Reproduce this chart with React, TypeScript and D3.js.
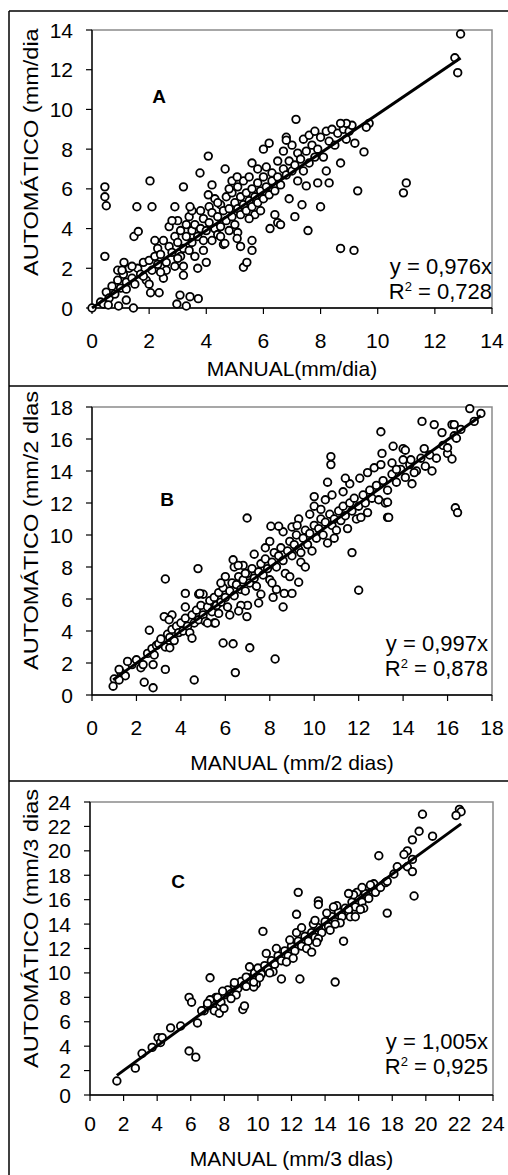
import * as d3 from "d3";

const FONT = '"Liberation Sans", Arial, sans-serif';

// ---- data (manual, automatico) ----
const pointsA: [number, number][] = [
  [0.3, 0.3], [0.4, 0.2], [0.5, 0.8], [0.6, 0.5], [0.7, 1.1], [0.8, 0.7], [0.9, 1.4], [1.0, 1.0], [1.1, 1.7], [1.2, 1.3],
  [1.3, 2.0], [1.4, 1.5], [1.5, 1.2], [1.6, 2.0], [1.7, 1.7], [1.8, 2.3], [1.9, 1.4], [2.0, 2.4], [2.1, 1.9], [2.2, 2.6],
  [1.2, 0.95], [0.9, 1.9], [1.4, 2.1], [1.8, 1.6], [2.0, 1.2],
  [2.3, 2.2], [2.3, 3.0], [2.4, 2.7], [2.5, 3.4], [2.5, 1.5], [2.6, 2.3], [2.7, 3.1], [2.7, 4.1], [2.8, 2.8], [2.9, 3.6],
  [2.9, 2.1], [3.0, 3.3], [3.0, 4.4], [3.1, 2.6], [3.1, 3.9], [3.2, 3.0], [3.3, 3.6], [3.3, 4.2], [3.4, 2.9], [3.4, 4.6],
  [3.5, 3.3], [3.5, 3.9], [3.6, 4.2], [3.6, 2.6], [3.7, 3.6], [3.7, 2.0], [3.8, 4.0], [3.8, 4.9], [3.9, 3.4], [3.9, 4.5],
  [4.0, 2.3], [4.0, 3.9], [2.2, 3.4], [2.8, 4.4], [3.2, 2.1], [3.5, 4.9], [2.6, 1.9], [3.0, 2.5], [2.4, 1.8], [3.9, 2.9],
  [4.1, 4.3], [4.1, 5.1], [4.2, 3.4], [4.2, 4.8], [4.3, 4.0], [4.3, 5.5], [4.4, 3.7], [4.4, 4.6], [4.5, 5.2], [4.5, 4.1],
  [4.6, 4.9], [4.6, 3.2], [4.7, 5.6], [4.7, 4.4], [4.8, 3.9], [4.8, 5.0], [4.9, 4.6], [4.9, 5.8], [5.0, 5.3], [5.0, 4.2],
  [5.1, 5.0], [5.1, 6.1], [5.2, 4.7], [5.2, 5.6], [5.3, 5.2], [5.3, 6.4], [5.4, 4.9], [5.4, 5.8], [5.5, 5.4], [5.5, 6.6],
  [5.6, 5.1], [5.6, 6.0], [5.7, 5.6], [5.7, 4.7], [5.8, 6.3], [5.8, 5.3], [5.9, 5.9], [6.0, 6.6], [6.0, 5.5], [4.4, 5.3],
  [4.8, 6.0], [5.1, 3.8], [5.8, 7.0], [4.2, 6.2], [4.5, 3.6], [5.5, 4.5], [5.9, 4.9], [4.9, 6.4],
  [6.1, 6.1], [6.1, 7.1], [6.2, 5.7], [6.3, 6.8], [6.3, 6.4], [6.4, 5.9], [6.5, 7.4], [6.5, 6.6], [6.6, 6.2], [6.7, 7.0],
  [6.7, 7.9], [6.8, 6.7], [6.9, 7.4], [6.9, 5.5], [7.0, 6.9], [7.0, 8.2], [7.1, 7.2], [7.2, 7.8], [7.2, 6.4], [7.3, 7.5],
  [7.4, 8.5], [7.4, 6.9], [7.5, 7.9], [7.6, 8.7], [7.6, 7.3], [7.7, 8.2], [7.8, 7.6], [7.8, 8.9], [7.9, 8.0], [8.0, 8.6],
  [8.1, 7.6], [8.2, 8.9], [8.3, 8.4], [8.4, 9.0], [8.5, 8.2], [8.6, 8.8], [8.7, 7.3], [8.8, 9.0], [8.9, 8.5], [9.0, 8.9],
  [9.1, 9.2], [9.2, 8.3], [6.2, 8.3], [6.0, 8.0], [7.9, 6.3], [8.2, 6.9], [6.8, 8.6], [6.5, 4.3], [8.9, 9.3],
  [0.45, 6.1], [0.45, 5.6], [0.5, 5.15], [2.03, 6.4], [3.2, 6.1], [3.78, 6.8], [4.07, 7.65], [4.66, 7.0], [5.08, 6.6], [5.6, 7.3],
  [4.07, 5.7], [12.9, 13.8], [12.7, 12.6], [12.8, 11.85], [7.14, 9.5], [9.7, 9.3], [9.6, 9.1], [9.52, 7.86], [11.0, 6.3], [10.9, 5.8],
  [9.3, 5.9], [8.3, 6.3], [7.5, 6.15], [6.8, 8.45], [8.7, 9.3], [0.45, 2.6], [0, 0], [1.45, 0.0], [1.2, 0.4], [0.93, 0.1],
  [0.57, 0.15], [2.05, 0.77], [2.35, 0.77], [2.97, 0.2], [3.3, 0.1], [3.08, 0.65], [3.43, 0.57], [3.72, 0.47], [1.05, 1.9], [1.12, 2.3],
  [1.47, 3.6], [1.62, 3.85], [1.57, 5.1], [2.1, 5.1], [2.9, 5.1], [3.43, 5.1], [5.3, 2.05], [5.42, 2.3], [5.6, 2.9], [5.6, 3.4],
  [5.2, 3.1], [5.08, 3.5], [4.65, 3.25], [6.23, 4.0], [6.6, 4.2], [6.4, 4.7], [7.1, 4.6], [7.35, 5.2], [7.56, 3.9], [8.0, 5.1],
  [8.7, 3.0], [9.17, 2.9], [3.2, 1.65],
];

const pointsB: [number, number][] = [
  [1.0, 1.0], [1.3, 1.4], [1.5, 1.2], [1.8, 1.9], [2.0, 2.2], [2.2, 1.7], [2.5, 2.6], [2.7, 2.9], [2.8, 2.5], [2.9, 3.1],
  [3.0, 3.2], [3.1, 3.5], [3.3, 3.0], [3.4, 3.8], [3.5, 3.6], [3.6, 4.1], [3.7, 3.4], [3.8, 4.3], [3.9, 3.9], [4.0, 4.5],
  [4.1, 4.0], [4.2, 4.8], [4.3, 4.3], [4.4, 3.9], [4.5, 5.0], [4.6, 4.5], [4.7, 5.3], [4.8, 4.7], [4.9, 5.6], [5.0, 5.0],
  [5.1, 4.6], [5.2, 5.5], [5.3, 5.9], [5.4, 5.2], [5.5, 6.1], [5.6, 5.6], [5.7, 6.4], [5.8, 5.8], [5.9, 6.7], [6.0, 6.1],
  [6.1, 5.5], [6.2, 6.5], [6.3, 7.0], [6.4, 6.2], [6.5, 6.9], [6.6, 7.4], [6.7, 6.6], [6.8, 7.2], [6.9, 6.5], [7.0, 7.6],
  [7.1, 7.0], [7.2, 7.9], [7.3, 7.3], [7.4, 6.8], [7.5, 7.7], [7.6, 8.2], [7.7, 7.5], [7.8, 8.5], [7.9, 7.9], [8.0, 7.2],
  [8.1, 8.3], [8.2, 8.9], [8.3, 8.0], [8.4, 8.7], [8.5, 9.2], [8.6, 8.4], [8.7, 7.6], [8.8, 9.0], [8.9, 9.6], [9.0, 8.7],
  [9.1, 9.4], [9.2, 10.0], [9.3, 9.1], [9.4, 8.3], [9.5, 9.8], [9.6, 10.3], [9.7, 9.4], [9.8, 10.1], [9.9, 9.0], [10.0, 10.6],
  [10.1, 9.8], [10.2, 10.4], [10.3, 11.0], [10.4, 10.0], [10.5, 10.8], [10.6, 9.5], [10.7, 11.3], [10.8, 10.6], [10.9, 11.0], [11.0, 10.3],
  [11.1, 11.5], [11.2, 10.9], [11.3, 11.8], [11.4, 11.2], [11.5, 10.4], [11.6, 12.0], [11.7, 11.5], [11.8, 12.3], [11.9, 11.0], [12.0, 11.8],
  [12.2, 12.5], [12.3, 12.0], [12.4, 11.4], [12.5, 12.8], [12.6, 12.3], [12.8, 13.1], [12.9, 12.2], [13.1, 13.4], [13.3, 12.8], [13.5, 13.8],
  [13.7, 13.3], [13.9, 14.1], [14.1, 13.6], [14.3, 14.4], [14.6, 14.0], [14.8, 14.8], [15.0, 14.3], [15.2, 15.0], [15.5, 14.8], [15.8, 15.6],
  [16.0, 15.1], [16.3, 16.2], [16.6, 16.6], [17.2, 17.1],
  [5.5, 4.5], [6.2, 5.0], [7.0, 5.6], [7.6, 6.3], [8.3, 6.6], [8.9, 7.4], [9.6, 8.0], [5.0, 6.3], [6.0, 7.4], [6.8, 8.1],
  [7.3, 8.8], [8.0, 9.6], [8.6, 10.2], [9.3, 11.0], [10.0, 11.8], [10.8, 12.5], [11.6, 13.2], [12.4, 13.9], [6.4, 8.0], [7.8, 9.2],
  [9.0, 10.5], [9.8, 11.3], [10.5, 12.2], [11.3, 12.7], [12.7, 14.2], [13.2, 12.0], [14.4, 13.2], [15.3, 14.0], [4.2, 5.5], [5.8, 7.0],
  [3.6, 5.0], [4.8, 6.3], [6.7, 5.6], [8.1, 7.0], [9.4, 8.9], [10.9, 9.8], [12.1, 11.1],
  [3.3, 7.25], [4.77, 7.9], [6.98, 11.06], [6.35, 8.45], [6.58, 8.1], [6.9, 7.6], [17.0, 17.9], [17.5, 17.6], [14.85, 17.1], [15.4, 16.9],
  [15.75, 16.4], [16.2, 16.9], [16.3, 16.9], [16.4, 16.05], [16.0, 15.45], [16.2, 14.75], [13.0, 16.45], [13.05, 15.1], [13.55, 15.55], [14.0, 15.4],
  [14.1, 15.3], [14.95, 15.4], [13.0, 14.4], [13.5, 14.5], [14.0, 14.7], [14.35, 14.7], [13.7, 14.1], [14.5, 13.9], [10.75, 14.9], [10.75, 14.4],
  [10.6, 13.3], [11.4, 13.55], [12.05, 13.55], [10.0, 12.4], [10.3, 11.6], [16.35, 11.7], [16.45, 11.4], [13.3, 11.1], [13.35, 11.1], [13.3, 12.05],
  [11.7, 8.9], [8.05, 10.55], [8.4, 10.55], [9.23, 10.6], [0.95, 0.55], [1.22, 0.94], [1.22, 1.6], [1.6, 2.1], [2.3, 1.9], [2.75, 1.9],
  [2.35, 0.8], [2.75, 0.45], [2.58, 4.05], [3.3, 1.6], [3.5, 2.95], [3.25, 4.9], [3.47, 4.7], [4.5, 3.55], [4.6, 0.94], [5.9, 3.25],
  [6.35, 3.2], [6.45, 1.4], [7.1, 2.95], [8.24, 2.25], [12.0, 6.55], [4.2, 6.35], [4.85, 6.35], [8.6, 5.5], [8.65, 6.35], [9.0, 6.35],
  [8.15, 6.1], [7.5, 5.75], [6.97, 4.9], [6.6, 5.25], [5.2, 4.5], [5.55, 4.5], [5.7, 5.1], [9.3, 7.05],
];

const pointsC: [number, number][] = [
  [6.8, 6.9], [7.0, 7.3], [7.3, 7.4], [7.5, 8.0], [7.8, 7.6], [8.0, 8.2], [8.2, 8.6], [8.4, 8.3], [8.6, 9.0], [8.8, 8.7],
  [9.0, 9.3], [9.2, 9.0], [9.4, 9.6], [9.6, 9.3], [9.8, 10.0], [10.0, 10.4], [10.2, 9.9], [10.4, 10.6], [10.6, 10.3], [10.8, 11.0],
  [11.0, 10.7], [11.2, 11.4], [11.4, 11.0], [11.6, 11.8], [11.8, 11.4], [12.0, 12.2], [12.2, 11.8], [12.4, 12.6], [12.6, 12.2], [12.8, 13.0],
  [13.0, 12.6], [13.2, 13.3], [13.4, 12.9], [13.6, 13.7], [13.8, 13.3], [14.0, 14.2], [14.2, 13.8], [14.4, 14.6], [14.6, 14.2], [14.8, 15.0],
  [15.0, 14.6], [15.2, 15.3], [15.4, 15.0], [15.6, 15.8], [15.8, 15.4], [16.0, 16.2], [16.2, 15.8], [16.4, 16.5], [16.6, 16.1], [16.8, 16.8],
  [17.0, 16.6], [17.3, 17.0], [17.6, 17.4], [10.5, 11.6], [11.1, 12.0], [11.9, 12.7], [12.3, 13.3], [9.5, 10.5], [10.9, 10.1], [11.7, 10.9],
  [12.9, 12.0], [13.6, 12.8], [14.3, 13.5], [14.9, 14.1], [15.5, 14.6], [16.3, 15.3], [12.1, 11.2], [9.9, 9.1], [8.7, 8.2], [7.4, 6.9],
  [13.3, 14.0], [14.7, 15.5], [15.9, 16.6], [16.9, 17.3],
  [22.0, 23.4], [22.1, 23.2], [21.8, 22.9], [19.8, 23.0], [19.6, 21.6], [20.4, 21.2], [19.2, 20.9], [18.9, 20.0], [18.7, 19.7], [17.2, 19.6],
  [19.2, 19.3], [18.3, 18.7], [18.9, 18.7], [19.2, 18.3], [18.1, 18.1], [19.3, 16.3], [17.7, 17.5], [17.7, 14.9], [16.7, 17.2], [16.2, 17.0],
  [15.7, 16.4], [15.4, 16.5], [15.1, 12.6], [12.4, 16.6], [12.3, 14.8], [10.3, 13.4], [13.6, 15.9], [13.6, 15.6], [14.5, 15.4], [14.1, 14.9],
  [14.6, 14.0], [15.4, 15.2], [16.1, 15.2], [15.8, 14.6], [13.4, 14.3], [13.5, 12.5], [13.2, 11.7], [12.6, 13.7], [1.6, 1.15], [2.7, 2.2],
  [3.1, 3.4], [3.7, 3.9], [4.05, 4.7], [4.2, 4.3], [4.3, 4.7], [4.8, 5.5], [5.4, 5.65], [5.9, 3.6], [6.3, 3.1], [5.9, 8.0],
  [6.05, 7.6], [6.4, 5.9], [6.65, 6.9], [7.15, 9.6], [7.15, 7.8], [7.0, 7.5], [7.7, 6.7], [7.98, 7.1], [7.6, 8.0], [7.9, 8.5],
  [8.4, 7.9], [8.6, 9.2], [9.1, 7.0], [9.2, 7.3], [9.3, 8.9], [9.3, 9.65], [9.75, 8.85], [9.75, 9.25], [10.1, 9.6], [10.7, 10.0],
  [11.4, 9.5], [12.5, 9.5], [14.6, 9.25],
];

const ticksA = [0, 2, 4, 6, 8, 10, 12, 14];
const ticksB = [0, 2, 4, 6, 8, 10, 12, 14, 16, 18];
const ticksC = [0, 2, 4, 6, 8, 10, 12, 14, 16, 18, 20, 22, 24];

const slopes = [0.976, 0.997, 1.005];
const slopeLabels = ["y = 0,976x", "y = 0,997x", "y = 1,005x"];
const r2Labels = ["0,728", "0,878", "0,925"];
const letters = ["A", "B", "C"];
const xTitles = ["MANUAL(mm/dia)", "MANUAL (mm/2 dias)", "MANUAL (mm/3 dlas)"];
const yTitles = ["AUTOMÁTICO (mm/dia", "AUTOMÁTICO (mm/2 dlas", "AUTOMÁTICO (mm/3 dias"];

// ---- layout ----
const layouts = [
  { left: 92, right: 492, top: 30, bottom: 308, xLab: 340, xTitle: 368, eqX: 492, eqY: 266, letX: 159, letY: 96, yTitleStart: 276 },
  { left: 92, right: 492, top: 407, bottom: 695, xLab: 727, xTitle: 762, eqX: 488, eqY: 643, letX: 167, letY: 499, yTitleStart: 670 },
  { left: 90, right: 493, top: 802, bottom: 1095, xLab: 1123, xTitle: 1158, eqX: 488, eqY: 1041, letX: 178, letY: 881, yTitleStart: 1068 },
];

type Layout = (typeof layouts)[number];

function Panel({ points, ticks, slope, eq, r2, letter, xTitle, yTitle, L }: {
  points: [number, number][]; ticks: number[]; slope: number; eq: string; r2: string;
  letter: string; xTitle: string; yTitle: string; L: Layout;
}) {
  const dom: [number, number] = [ticks[0], ticks[ticks.length - 1]];
  const x = d3.scaleLinear().domain(dom).range([L.left, L.right]);
  const y = d3.scaleLinear().domain(dom).range([L.bottom, L.top]);
  const [xmin, xmax] = d3.extent(points, (d) => d[0]) as [number, number];
  const line = d3.line<number>().x((v) => x(v)).y((v) => y(v * slope));
  const midX = (L.left + L.right) / 2;
  return (
    <g fontFamily={FONT} fill="#000">
      <rect x={L.left} y={L.top} width={L.right - L.left} height={L.bottom - L.top} fill="#fff" stroke="#8a8a8a" strokeWidth={1.5} />
      <line x1={L.left} x2={L.left} y1={L.top} y2={L.bottom} stroke="#000" strokeWidth={1.3} />
      <line x1={L.left} x2={L.right} y1={L.bottom} y2={L.bottom} stroke="#000" strokeWidth={1.3} />
      {ticks.map((t) => (
        <g key={"y" + t}>
          <line x1={L.left - 6} x2={L.left} y1={y(t)} y2={y(t)} stroke="#000" strokeWidth={1.2} />
          <text x={L.left - 19} y={y(t)} dy="0.36em" textAnchor="end" fontSize={21}>{t}</text>
        </g>
      ))}
      {ticks.map((t) => (
        <g key={"x" + t}>
          <line x1={x(t)} x2={x(t)} y1={L.bottom} y2={L.bottom + 6} stroke="#000" strokeWidth={1.2} />
          <text x={x(t)} y={L.xLab} dy="0.36em" textAnchor="middle" fontSize={21}>{t}</text>
        </g>
      ))}
      {points.map((p, i) => (
        <circle key={i} cx={x(p[0])} cy={y(p[1])} r={3.8} fill="#fff" stroke="#000" strokeWidth={1.8} />
      ))}
      <path d={line([xmin, xmax]) ?? ""} stroke="#000" strokeWidth={3} fill="none" />
      <text x={L.letX} y={L.letY} dy="0.36em" textAnchor="middle" fontSize={19} fontWeight="bold">{letter}</text>
      <text x={L.eqX} y={L.eqY} dy="0.36em" textAnchor="end" fontSize={22}>{eq}</text>
      <text x={L.eqX} y={L.eqY + 25} dy="0.36em" textAnchor="end" fontSize={22}>
        R<tspan dy="-8" fontSize={13}>2</tspan><tspan dy="8"> = {r2}</tspan>
      </text>
      <text x={midX} y={L.xTitle} dy="0.36em" textAnchor="middle" fontSize={21}>{xTitle}</text>
      <text transform={`translate(38,${L.yTitleStart}) rotate(-90) scale(1.12,1)`} textAnchor="start" fontSize={21}>{yTitle}</text>
    </g>
  );
}

export default function App() {
  const data = [pointsA, pointsB, pointsC];
  const ticks = [ticksA, ticksB, ticksC];
  return (
    <svg width={508} height={1175} style={{ position: "absolute", left: 0, top: 0, background: "#fff" }}>
      <rect x={0} y={0} width={508} height={1175} fill="#fff" />
      {layouts.map((L, i) => (
        <Panel key={i} points={data[i]} ticks={ticks[i]} slope={slopes[i]} eq={slopeLabels[i]} r2={r2Labels[i]}
          letter={letters[i]} xTitle={xTitles[i]} yTitle={yTitles[i]} L={L} />
      ))}
      <g stroke="#000" strokeWidth={1.5} fill="none">
        <line x1={9} x2={520} y1={11} y2={11} />
        <line x1={9} x2={9} y1={11} y2={1180} />
        <line x1={9} x2={520} y1={386} y2={386} />
        <line x1={9} x2={520} y1={781} y2={781} />
      </g>
    </svg>
  );
}
